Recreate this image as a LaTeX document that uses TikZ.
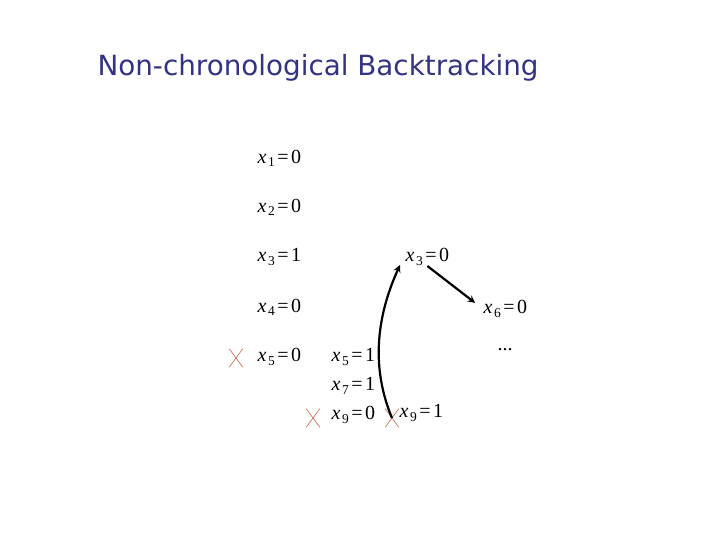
\documentclass[tikz,border=0pt]{standalone}
\usepackage{fontspec}
\newfontfamily\titlefont{DejaVu Sans}
\newfontfamily\eqfont{Liberation Serif}
\usetikzlibrary{shapes.misc}
\definecolor{titleblue}{RGB}{51,51,132}
\definecolor{crossred}{RGB}{196,98,66}
\newcommand{\asg}[2]{{\itshape x}\hspace{1.5pt}\raisebox{-0.35ex}{\fontsize{13.5}{13.5}\selectfont #1}\hspace{2.5pt}=\hspace{2.5pt}#2}
\tikzset{
  asgn/.style={anchor=west, inner sep=0.5pt, font=\eqfont\fontsize{20}{24}\selectfont},
  fail/.style={cross out, draw=crossred, line width=0.6pt, minimum width=13pt, minimum height=18pt, inner sep=0pt},
}
\begin{document}
\begin{tikzpicture}[x=1pt, y=-1pt]
  \useasboundingbox (0,0) rectangle (720,540);
  % Title
  \node[anchor=west, text=titleblue, font=\titlefont\fontsize{27.8}{32}\selectfont] (title) at (94,68) {Non-chronological Backtracking};

  % Left branch of the search tree
  \node[asgn] (x1) at (257,158) {\asg{1}{0}};
  \node[asgn] (x2) at (257,207) {\asg{2}{0}};
  \node[asgn] (x3a) at (257,257) {\asg{3}{1}};
  \node[asgn] (x4) at (257,307) {\asg{4}{0}};
  \node[asgn] (x5a) at (257,357) {\asg{5}{0}};
  \node[asgn] (x5b) at (331,357) {\asg{5}{1}};
  \node[asgn] (x7) at (331,386) {\asg{7}{1}};
  \node[asgn] (x9a) at (331,415) {\asg{9}{0}};
  \node[asgn] (x9b) at (399,413) {\asg{9}{1}};

  % Right branch
  \node[asgn] (x3b) at (405,257) {\asg{3}{0}};
  \node[asgn] (x6) at (483,309) {\asg{6}{0}};
  \node[asgn] (dots) at (497,350) {...};

  % Conflicts
  \node[fail] (c1) at (236,358) {};
  \node[fail] (c2) at (313,418) {};
  \node[fail] (c3) at (392,418) {};

  % Backjump and new branch
  \draw[line width=2.2pt, -stealth] (c3.center) .. controls (372,370) and (375,320) .. ([xshift=-5pt,yshift=1pt]x3b.south west); % jump back to x3
  \draw[line width=2.2pt, -stealth, shorten >=10pt] (x3b.south) -- (x6.west); % flip x3
\end{tikzpicture}
\end{document}
